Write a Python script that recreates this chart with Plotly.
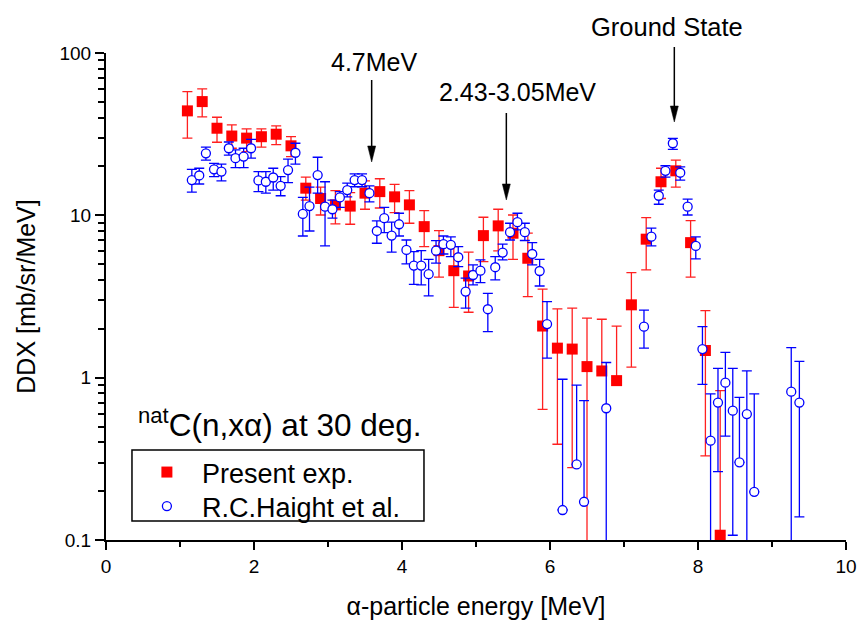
import plotly.graph_objects as go

# ---------------- data ----------------
# Present experiment (red squares): energy, DDX, upper and lower error-bar ends
present_x = [1.1, 1.3, 1.5, 1.7, 1.9, 2.1, 2.3, 2.5, 2.7, 2.9, 3.1, 3.3, 3.5, 3.7,
             3.9, 4.1, 4.3, 4.5, 4.7, 4.9, 5.1, 5.3, 5.5, 5.7, 5.9, 6.1, 6.3, 6.5,
             6.7, 6.9, 7.1, 7.3, 7.5, 7.7, 7.9, 8.1, 8.3]
present_y = [44.0, 50.2, 34.4, 30.8, 29.9, 30.5, 31.6, 26.8, 14.7, 12.7, 11.6, 11.4,
             13.7, 14.0, 13.0, 11.6, 8.52, 6.06, 4.56, 4.23, 7.50, 8.61, 7.76, 5.44,
             2.08, 1.52, 1.50, 1.17, 1.10, 0.959, 2.81, 7.13, 16.1, 18.8, 6.79, 1.47,
             0.107]
present_hi = [57.8, 60.1, 40.2, 36.1, 34.1, 34.1, 35.6, 30.5, 17.2, 14.9, 14.2, 13.8,
              16.3, 16.8, 15.5, 14.2, 10.7, 8.05, 6.41, 5.93, 9.73, 10.9, 10.05, 7.76,
              3.51, 2.65, 2.68, 2.33, 2.29, 2.08, 4.44, 9.68, 19.5, 21.9, 9.27, 2.59,
              0.832]
present_lo = [29.9, 40.4, 28.2, 25.9, 24.7, 26.3, 27.3, 23.0, 12.4, 10.05, 8.85, 8.81,
              10.9, 11.1, 10.4, 8.94, 6.41, 4.16, 2.71, 2.53, 5.19, 6.04, 5.36, 3.16,
              0.638, 0.389, 0.279, 0.0, 1.10, 0.959, 1.16, 4.61, 12.7, 14.9, 4.16, 0.33,
              0.107]

# R.C.Haight et al. (blue open circles)
haight_x = [1.16, 1.26, 1.35, 1.46, 1.56, 1.66, 1.75, 1.86, 1.96, 2.06, 2.16, 2.26,
            2.36, 2.46, 2.56, 2.66, 2.75, 2.86, 2.96, 3.06, 3.16, 3.26, 3.36, 3.46,
            3.56, 3.66, 3.76, 3.86, 3.96, 4.06, 4.16, 4.26, 4.36, 4.46, 4.56, 4.66,
            4.76, 4.86, 4.96, 5.06, 5.16, 5.26, 5.36, 5.46, 5.56, 5.66, 5.76, 5.86,
            5.96, 6.17, 6.36, 6.46, 6.76, 7.27, 7.37, 7.47, 7.56, 7.66, 7.76, 7.86,
            7.97, 8.06, 8.17, 8.27, 8.37, 8.47, 8.56, 8.66, 8.76, 9.26, 9.37]
haight_y = [16.5, 17.6, 24.1, 19.2, 18.6, 25.9, 22.5, 23.0, 25.9, 16.4, 16.1, 17.1,
            15.2, 19.0, 24.3, 10.2, 11.4, 17.7, 11.3, 10.9, 12.9, 14.3, 16.5, 16.5,
            13.7, 8.01, 9.6, 7.50, 8.81, 6.12, 4.90, 4.90, 4.34, 6.06, 6.64, 6.58,
            5.52, 3.39, 4.29, 4.56, 2.64, 4.79, 5.89, 7.87, 9.07, 7.87, 5.78, 4.54,
            2.14, 0.153, 0.292, 0.172, 0.648, 2.06, 7.39, 13.2, 18.8, 27.8, 18.3, 11.3,
            6.48, 1.50, 0.409, 0.702, 0.931, 0.626, 0.301, 0.597, 0.198, 0.820, 0.702]
haight_hi = [19.2, 19.5, 26.3, 20.9, 20.7, 28.3, 25.3, 25.9, 29.4, 18.6, 18.6, 19.5,
             17.3, 22.2, 27.8, 12.9, 14.9, 22.8, 16.1, 12.4, 14.0, 15.8, 18.0, 18.0,
             15.2, 9.25, 11.2, 9.07, 10.3, 7.05, 5.97, 6.06, 5.36, 6.99, 7.46, 7.37,
             6.41, 4.10, 4.95, 5.31, 3.31, 5.57, 6.64, 8.94, 10.3, 8.94, 6.79, 5.36,
             2.94, 0.978, 0.90, 0.722, 1.24, 2.61, 8.33, 14.3, 20.2, 29.8, 19.9, 12.6,
             7.37, 2.06, 0.794, 1.14, 1.43, 1.14, 0.757, 1.10, 0.794, 1.53, 1.26]
haight_lo = [13.9, 15.6, 21.9, 17.3, 16.3, 23.5, 19.7, 19.7, 22.5, 14.0, 13.7, 14.3,
             13.2, 15.9, 20.7, 7.46, 8.01, 13.7, 6.48, 9.6, 11.2, 13.0, 15.0, 15.0,
             12.1, 6.73, 7.82, 5.94, 7.46, 5.02, 3.76, 3.73, 3.19, 5.07, 5.78, 5.57,
             4.83, 2.68, 3.73, 3.85, 1.92, 4.0, 5.31, 7.05, 8.13, 7.0, 4.95, 3.67,
             1.32, 0.153, 0.292, 0.172, 0.0, 1.52, 6.48, 11.7, 17.2, 25.5, 16.5, 10.05,
             5.39, 0.91, 0.0, 0.264, 0.437, 0.107, 0.301, 0.0, 0.198, 0.0, 0.139]

x_ticks = [0, 2, 4, 6, 8, 10]
y_ticks = [0.1, 1, 10, 100]
y_tick_text = ["0.1", "1", "10", "100"]

FONT = "Arial, 'Liberation Sans', sans-serif"

def plus(v, hi):
    return [h - a for a, h in zip(v, hi)]

def minus(v, lo):
    return [a - l for a, l in zip(v, lo)]

fig = go.Figure()

fig.add_trace(go.Scatter(
    x=present_x, y=present_y, mode="markers", name="Present exp.", legend="legend",
    marker=dict(symbol="square", size=11, color="#FF0000"),
    error_y=dict(type="data", symmetric=False,
                 array=plus(present_y, present_hi),
                 arrayminus=minus(present_y, present_lo),
                 color="#FF2020", thickness=1.3, width=5),
))

fig.add_trace(go.Scatter(
    x=haight_x, y=haight_y, mode="markers", name="R.C.Haight et al.", legend="legend2",
    marker=dict(symbol="circle", size=9, color="white",
                line=dict(color="#0000FF", width=1.3)),
    error_y=dict(type="data", symmetric=False,
                 array=plus(haight_y, haight_hi),
                 arrayminus=minus(haight_y, haight_lo),
                 color="#0000FF", thickness=1.3, width=5),
))

# arrows (paper coordinates): x, tail y, tip y
arrows = [(0.359, 0.9446, 0.7762), (0.541, 0.8768, 0.6982), (0.768, 1.0123, 0.8583)]
head_len = 16 / 487
head_half = 4 / 740
shapes = []
for ax_, ytail, ytip in arrows:
    shapes.append(dict(type="line", xref="paper", yref="paper", x0=ax_, x1=ax_,
                       y0=ytail, y1=ytip + head_len * 0.5,
                       line=dict(color="black", width=1.5)))
    shapes.append(dict(type="path", xref="paper", yref="paper",
                       path=f"M {ax_-head_half},{ytip+head_len} L {ax_+head_half},{ytip+head_len} L {ax_},{ytip} Z",
                       fillcolor="black", line=dict(color="black", width=0.5)))

# legend frame
shapes.append(dict(type="rect", xref="paper", yref="paper", layer="above",
                   x0=0.0351, x1=0.4297, y0=0.039, y1=0.1848,
                   fillcolor="rgba(0,0,0,0)", line=dict(color="black", width=1.5)))

annotations = [
    dict(text="4.7MeV", x=0.3624, y=0.9815, xref="paper", yref="paper",
         xanchor="center", yanchor="middle",
         showarrow=False, font=dict(size=25, family=FONT, color="black")),
    dict(text="2.43-3.05MeV", x=0.5565, y=0.920, xref="paper", yref="paper",
         xanchor="center", yanchor="middle",
         showarrow=False, font=dict(size=25, family=FONT, color="black")),
    dict(text="Ground State", x=0.758, y=1.053, xref="paper", yref="paper",
         xanchor="center", yanchor="middle",
         showarrow=False, font=dict(size=25.5, family=FONT, color="black")),
    dict(text="<sup>nat</sup>C(n,xα) at 30 deg.", x=0.040, y=0.240,
         xref="paper", yref="paper", xanchor="left", yanchor="middle",
         showarrow=False, font=dict(size=31.5, family=FONT, color="black")),
]

legend_common = dict(x=0.035, xanchor="left", yanchor="top",
                     bgcolor="rgba(0,0,0,0)", borderwidth=0,
                     font=dict(size=27, family=FONT, color="black"),
                     itemwidth=60)

fig.update_layout(
    width=860, height=624,
    margin=dict(l=106, r=14, t=53, b=84, autoexpand=False),
    paper_bgcolor="white", plot_bgcolor="white",
    font=dict(family=FONT, color="black"),
    showlegend=True,
    legend=dict(y=0.1889, **legend_common),
    legend2=dict(y=0.1191, **legend_common),
    shapes=shapes,
    annotations=annotations,
)

fig.update_xaxes(
    range=[0, 10], tickvals=x_ticks, showgrid=False, zeroline=False, automargin=False,
    showline=True, linecolor="black", linewidth=2,
    ticks="outside", ticklen=8, tickwidth=2, tickcolor="black",
    tickfont=dict(size=19, family=FONT, color="black"),
    minor=dict(dtick=1, ticks="outside", ticklen=5, tickwidth=2, tickcolor="black", showgrid=False),
    title=dict(text="α-particle energy [MeV]", font=dict(size=25, family=FONT, color="black"), standoff=22),
)

fig.update_yaxes(
    type="log", range=[-1, 2], tickvals=y_ticks, ticktext=y_tick_text,
    showgrid=False, zeroline=False, automargin=False,
    showline=True, linecolor="black", linewidth=2,
    ticks="outside", ticklen=9, tickwidth=2, tickcolor="black",
    tickfont=dict(size=19, family=FONT, color="black"),
    minor=dict(tickvals=[m * d for d in (0.1, 1, 10) for m in range(2, 10)],
               ticks="outside", ticklen=6, tickwidth=2, tickcolor="black", showgrid=False),
    title=dict(text="DDX [mb/sr/MeV]", font=dict(size=25, family=FONT, color="black"), standoff=17),
)

fig.write_html("out.html", config={"responsive": False, "displayModeBar": False},
               post_script="document.body.style.margin='0px';")
